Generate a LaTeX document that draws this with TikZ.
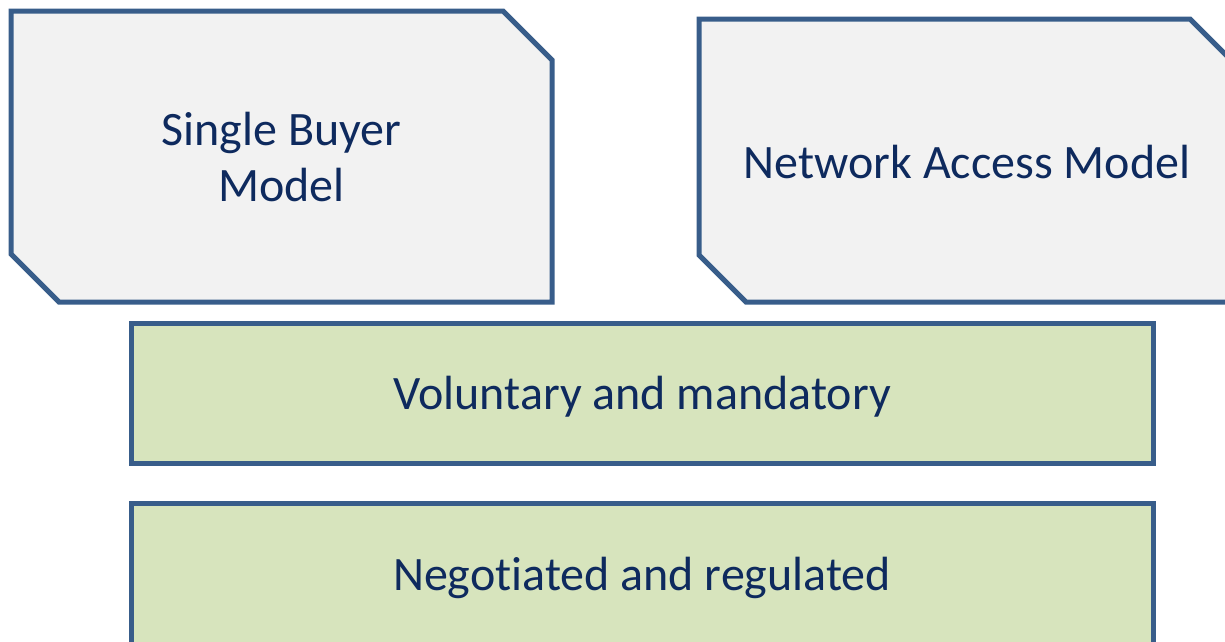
\documentclass[tikz,border=0pt]{standalone}
\usepackage{fontspec}
\setmainfont[Ligatures=NoCommon]{Carlito}
\definecolor{edgeblue}{HTML}{385D8A}
\definecolor{greyfill}{HTML}{F2F2F2}
\definecolor{greenfill}{HTML}{D7E4BD}
\definecolor{textnavy}{HTML}{0E2A5E}
\begin{document}
\begin{tikzpicture}[x=1pt,y=-1pt,
  panel/.style={draw=edgeblue,line width=5pt,line join=miter},
  label/.style={text=textnavy,font=\fontsize{48}{56}\selectfont,align=center,inner sep=0pt}]
\useasboundingbox (0,0) rectangle (1225,641);
\begin{scope}
\clip (0,0) rectangle (1225,641);
% left panel, chamfered top right and bottom left
\draw[panel,fill=greyfill] (11,11) -- (503,11) -- (552,60) -- (552,302) -- (59,302) -- (11,254) -- cycle;
% right panel, runs past the right edge
\draw[panel,fill=greyfill] (699,19) -- (1190,19) -- (1237,66) -- (1237,302) -- (746,302) -- (699,255) -- cycle;
% lower bars
\draw[panel,fill=greenfill] (131,323) rectangle (1153,463);
\draw[panel,fill=greenfill] (131,503) rectangle (1153,645);
\end{scope}
\node[label] (single) at (281.5,157) {Single Buyer\\Model};
\node[label] (network) at (967,162) {Network Access Model};
\node[label] (voluntary) at (642,397) {Voluntary and mandatory};
\node[label] (negotiated) at (642,578) {Negotiated and regulated};
\end{tikzpicture}
\end{document}
